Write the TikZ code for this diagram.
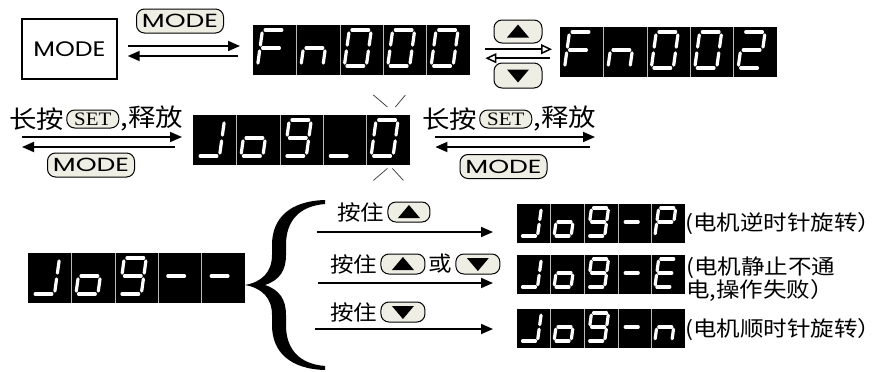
\documentclass[tikz,border=0pt]{standalone}
\usepackage{fontspec}
\newfontfamily\cjk[FakeStretch=1.12]{Noto Sans CJK SC}
\newfontfamily\modefont[FakeStretch=1.4]{Poppins}
\newfontfamily\boxfont[FakeStretch=1.2]{Poppins}
\newfontfamily\setfont[FakeStretch=1.1]{Liberation Serif}
\usetikzlibrary{positioning}
\usetikzlibrary{arrows.meta}
\definecolor{keyfill}{RGB}{238,238,228}
\tikzset{
    modebox/.style = {rectangle, draw=black, line width=1.4pt, minimum width=95pt, minimum height=60pt, font=\boxfont\fontsize{21}{21}\selectfont},
    key/.style = {rectangle, rounded corners=8pt, draw=black, line width=1pt, fill=keyfill, inner sep=0pt},
    keymode/.style = {key, minimum width=87pt, minimum height=24pt, font=\modefont\fontsize{19}{19}\selectfont},
    keyset/.style = {key, minimum width=52pt, minimum height=18pt, font=\setfont\fontsize{19}{19}\selectfont},
    keytri/.style = {key, minimum width=44pt, minimum height=20pt},
    lcdbox/.style = {rectangle, fill=black, inner sep=0pt, minimum width=217pt, minimum height=50pt, anchor=north west, transform shape},
    cellsep/.style = {draw=gray!55, line width=0.5pt},
    seg/.style = {white, line width=3.2pt, line cap=round},
    txtA/.style = {inner sep=0pt, font=\cjk\fontsize{24.5}{24.5}\selectfont},
    txtB/.style = {inner sep=0pt, font=\cjk\fontsize{21}{20}\selectfont},
    edgef/.style = {-{Triangle[length=12pt,width=10pt]}, line width=1.8pt},
    edgeo/.style = {-{Triangle[open,length=11pt,width=10pt]}, line width=1.5pt},
    blink/.style = {line width=0.7pt, black!80},
    uptri/.pic = {\fill (-11,6) -- (11,6) -- (0,-7) -- cycle;},
    dntri/.pic = {\fill (-11,-6) -- (11,-6) -- (0,7) -- cycle;}
}
% seven segment glyphs
\newcommand\setdigit[2]{\expandafter\def\csname dg#1\endcsname{#2}}
\setdigit{0}{A,B,C,D,E,F}
\setdigit{2}{A,B,G,E,D}
\setdigit{9}{A,B,C,D,F,G}
\setdigit{F}{A,F,E,G}
\setdigit{n}{C,E,G}
\setdigit{J}{B,C,D}
\setdigit{o}{C,D,E,G}
\setdigit{P}{A,B,E,F,G}
\setdigit{E}{A,D,E,F,G}
\setdigit{u}{D}
\setdigit{m}{G}
\def\sgA{.12/1/.88/1}
\def\sgB{1/.92/1/.58}
\def\sgC{1/.42/1/.08}
\def\sgD{.12/0/.88/0}
\def\sgE{0/.42/0/.08}
\def\sgF{0/.92/0/.58}
\def\sgG{.12/.5/.88/.5}
\def\sgdraw#1/#2/#3/#4\relax{\draw[seg] (#1,#2) -- (#3,#4);}
\newcommand\lcd[4]{% name, top left, scale, digits
  \begin{scope}[shift={#2}, #3]
    \node[lcdbox] (#1) at (0,0) {};
    \foreach \dgt [count=\i from 0] in {#4} {
      \ifnum\i>0 \draw[cellsep] (\i*43.4,0) -- (\i*43.4,50); \fi
      \begin{scope}[shift={(\i*43.4+4.5,41)}, x={(22pt,0pt)}, y={(5pt,36pt)}]
        \edef\segs{\csname dg\dgt\endcsname}
        \foreach \s in \segs {\edef\p{\csname sg\s\endcsname}\expandafter\sgdraw\p\relax}
      \end{scope}
    }
  \end{scope}}

\begin{document}
\begin{tikzpicture}[x=1pt, y=-1pt]
\useasboundingbox (0,0) rectangle (881,372);
%
\node[modebox] (modebox) at (69.5,49) {MODE};
\node[keymode] (kmodeA) at (180,21) {MODE};
\lcd{fnA}{(253,25)}{}{F,n,0,0,0}
\node[keytri, minimum width=48pt, minimum height=23pt] (kupA) at (518,31.5) {};
\node[keytri, minimum width=48pt, minimum height=25pt] (kdnA) at (518,75.5) {};
\pic at (kupA) {uptri};
\pic at (kdnA) {dntri};
\lcd{fnB}{(560,27)}{}{F,n,0,0,2}
%
\coordinate (mA) at ([yshift=3pt]modebox.east);
\coordinate (mB) at ([yshift=-7pt]modebox.east);
\draw[edgef, shorten <=10pt, shorten >=13pt] (mA) -- (mA -| fnA.west);
\draw[edgef, shorten <=15pt, shorten >=10pt] (mB -| fnA.west) -- (mB);
\coordinate (uA) at ([yshift=1pt]fnA.east);
\coordinate (dA) at ([yshift=-8pt]fnA.east);
\draw[edgeo, shorten <=15pt, shorten >=8pt] (uA) -- (uA -| fnB.west);
\draw[edgeo, shorten <=10pt, shorten >=15pt] (dA -| fnB.west) -- (dA);
%
\lcd{jogO}{(193,115)}{}{J,o,9,u,0}
\draw[blink] ([shift={(-23,-8)}]jogO.north east) -- ++(-14,-12);
\draw[blink] ([shift={(-15,-8)}]jogO.north east) -- ++(10,-12);
\draw[blink] ([shift={(-23,3)}]jogO.south east) -- ++(-14,12);
\draw[blink] ([shift={(-18,3)}]jogO.south east) -- ++(11,12);
\node[txtA, anchor=west] (lpress) at (9,119) {长按};
\node[keyset, right=2pt of lpress] (ksetA) {SET};
\node[txtA, right=1pt of ksetA] (lrel) {,释放};
\node[keymode] (kmodeB) at (91,165) {MODE};
\node[txtA, anchor=west] (rpress) at (422,119) {长按};
\node[keyset, right=2pt of rpress] (ksetB) {SET};
\node[txtA, right=1pt of ksetB] (rrel) {,释放};
\node[keymode] (kmodeC) at (503.5,166.5) {MODE};
\coordinate (l2a) at (22,137);
\coordinate (l2b) at (22,147);
\coordinate (r2a) at (595,137);
\coordinate (r2b) at (590,147);
\draw[edgef, shorten >=11pt] (l2a) -- (l2a -| jogO.west);
\draw[edgef, shorten <=18pt] (l2b -| jogO.west) -- (l2b);
\draw[edgef, shorten <=25pt] (r2a -| jogO.east) -- (r2a);
\draw[edgef, shorten >=25pt] (r2b) -- (r2b -| jogO.east);
%
\lcd{jogC}{(28,253)}{}{J,o,9,m,m}
\fill (325,200) .. controls (290,201) and (272,218) .. (272,245) -- (272,255)
  .. controls (272,272) and (262,282) .. (245,285)
  .. controls (262,288) and (272,298) .. (272,315) -- (272,325)
  .. controls (272,352) and (290,369) .. (325,370) -- (325,366)
  .. controls (300,364) and (286,350) .. (286,325) -- (286,315)
  .. controls (286,300) and (280,290) .. (265,285)
  .. controls (280,280) and (286,270) .. (286,255) -- (286,245)
  .. controls (286,220) and (300,206) .. (325,204) -- cycle;
\lcd{jogP}{(517,204)}{xscale=.774, yscale=.78}{J,o,9,m,P}
\lcd{jogE}{(517,255)}{xscale=.774, yscale=.78}{J,o,9,m,E}
\lcd{jogN}{(517,309)}{xscale=.774, yscale=.78}{J,o,9,m,n}
\coordinate (s1) at (317,232);
\coordinate (s2) at (318,283);
\coordinate (s3) at (315,329);
\draw[edgef, shorten >=24pt] (s1) -- (s1 -| jogP.west);
\draw[edgef, shorten >=24pt] (s2) -- (s2 -| jogE.west);
\draw[edgef, shorten >=24pt] (s3) -- (s3 -| jogN.west);
\node[txtB, anchor=west] (hold1) at (337,212) {按住};
\node[keytri, right=3pt of hold1, minimum width=42pt] (kupB) {};
\node[txtB, anchor=west] (hold2) at (330,264) {按住};
\node[keytri, right=3pt of hold2] (kupC) {};
\node[txtB, right=3pt of kupC] (orC) {或};
\node[keytri, right=3pt of orC] (kdnC) {};
\node[txtB, anchor=west] (hold3) at (330,312) {按住};
\node[keytri, right=3pt of hold3] (kdnD) {};
\pic at (kupB) {uptri};
\pic at (kupC) {uptri};
\pic at (kdnC) {dntri};
\pic at (kdnD) {dntri};
\node[txtB, anchor=west] (ccw) at (685,224) {(电机逆时针旋转）};
\node[txtB, anchor=north west, align=left] (fail) at (686,257) {(电机静止不通\\电,操作失败）};
\node[txtB, anchor=west] (cw) at (685,330) {(电机顺时针旋转）};
\end{tikzpicture}
\end{document}
